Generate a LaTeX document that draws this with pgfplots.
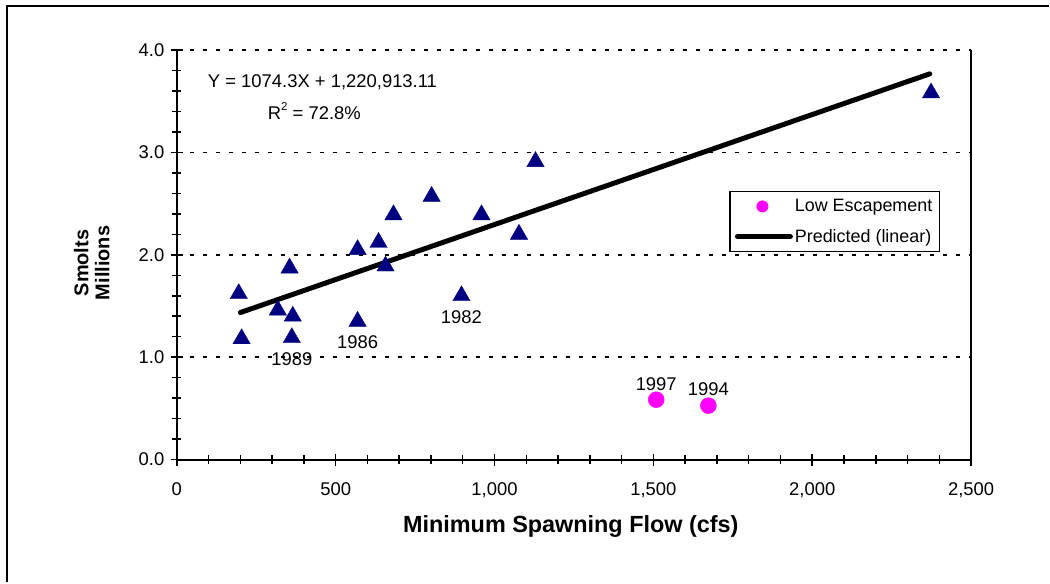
\documentclass[border=0pt]{standalone}
\usepackage{pgfplots}
\pgfplotsset{compat=1.18}
\usepackage{fontspec}
\setmainfont{Liberation Sans}
\definecolor{navytri}{HTML}{000080}
\definecolor{lowesc}{HTML}{FF00FF}

% smolts (millions) vs minimum spawning flow (cfs)
\pgfplotstableread{
x y
195 1.62
204 1.18
318 1.46
355 1.87
365 1.40
362 1.19
569 2.05
569 1.35
635 2.12
657 1.89
682 2.39
802 2.57
896 1.60
959 2.39
1077 2.20
1129 2.91
2374 3.58
}\smolts
\pgfplotstableread{
x y
1509 0.585
1673 0.527
}\lowesc
\pgfplotstableread{
x y label
362 1.19 1989
569 1.35 1986
896 1.60 1982
}\labbelow
\pgfplotstableread{
x y label
1509 0.585 1997
1673 0.527 1994
}\lababove

\begin{document}
\begin{tikzpicture}
\begin{axis}[
    scale only axis,
    width=795bp, height=410bp,
    xmin=0, xmax=2500, ymin=0, ymax=4,
    axis x line=bottom, axis y line=left,
    axis line style={-, line width=1.8bp},
    xtick={0,500,...,2500}, minor xtick={0,100,...,2500},
    ytick={0,1,...,4}, minor ytick={0,0.2,...,4},
    tick align=center,
    major tick length=12bp, minor tick length=9bp,
    tick style={line width=1.5bp, black},
    xticklabel style={font=\fontsize{18.5}{21}\selectfont, yshift=-14bp},
    yticklabel style={font=\fontsize{18.5}{21}\selectfont, xshift=-3bp},
    /pgf/number format/assume math mode=true,
    x tick label style={/pgf/number format/1000 sep={,}},
    y tick label style={/pgf/number format/.cd, fixed, fixed zerofill, precision=1},
    ymajorgrids,
    grid style={black, line width=1.5bp, dash pattern=on 4bp off 9bp},
    xlabel={\bfseries Minimum Spawning Flow (cfs)},
    xlabel style={font=\fontsize{23.5}{26}\selectfont, at={(rel axis cs:0.496,-0.163)}, anchor=center},
    ylabel={\bfseries Smolts\\\bfseries Millions},
    ylabel style={font=\fontsize{20}{21}\selectfont, at={(rel axis cs:-0.107,0.48)}, anchor=center, align=center},
    legend style={at={(rel axis cs:0.6956,0.656)}, anchor=north west,
        draw=black, line width=1.3bp, font=\fontsize{18}{21}\selectfont,
        inner xsep=5bp, inner ysep=6bp, row sep=12bp, cells={anchor=west}},
    legend cell align=left,
    clip=false,
]
\addplot[only marks, mark=triangle*, mark size=10bp, color=navytri, forget plot] table {\smolts};
\addplot[only marks, mark=*, mark size=8bp, color=lowesc,
    legend image code/.code={\fill[lowesc, draw=none] (27bp,0) circle (6bp); \path[draw=none, fill=none] (0,0) -- (55bp,0);}] table {\lowesc};
\addlegendentry{Low Escapement}
\addplot[black, line width=5bp, line cap=round,
    legend image code/.code={\draw[black, line width=5bp, line cap=round] (2bp,0) -- (55bp,0);}] coordinates {(200,1.436) (2370,3.767)};
\addlegendentry{Predicted (linear)}
\addplot[only marks, mark=none, nodes near coords, point meta=explicit symbolic,
    every node near coord/.append style={anchor=center, yshift=-21bp, font=\fontsize{18.5}{21}\selectfont},
    forget plot] table[meta=label] {\labbelow};
\addplot[only marks, mark=none, nodes near coords, point meta=explicit symbolic,
    every node near coord/.append style={anchor=center, yshift=16bp, font=\fontsize{18.5}{21}\selectfont},
    forget plot] table[meta=label] {\lababove};
\draw[line width=1.2bp] (rel axis cs:1,0) -- (rel axis cs:1,1);
\node[anchor=west, font=\fontsize{18.5}{21}\selectfont, inner sep=0pt] at (rel axis cs:0.039,0.922) {Y = 1074.3X + 1,220,913.11};
\node[anchor=west, font=\fontsize{18.5}{21}\selectfont, inner sep=0pt] at (rel axis cs:0.1145,0.851) {R\raisebox{1.0ex}{\fontsize{11.5}{11.5}\selectfont 2} = 72.8\%};
\draw[line width=2bp] (rel axis cs:-0.2138,-0.3) -- (rel axis cs:-0.2138,1.1073) -- (rel axis cs:1.0981,1.1073);
\path (rel axis cs:-0.2226,-0.3) rectangle (rel axis cs:1.0981,1.122);
\end{axis}
\end{tikzpicture}
\end{document}
